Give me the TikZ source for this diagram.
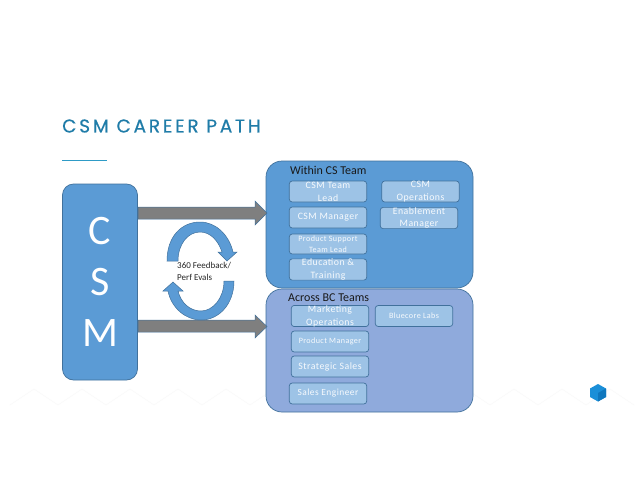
\documentclass[tikz,border=0pt]{standalone}
\usepackage{fontspec}
\setmainfont{Carlito}
\newfontfamily\titlefont[LetterSpace=15,FakeBold=0.5]{Poppins}
\newfontfamily\boxfont[LetterSpace=5]{Carlito}
\definecolor{edgeblue}{HTML}{41719C}
\definecolor{midblue}{HTML}{5B9BD5}
\definecolor{periblue}{HTML}{8FAADC}
\definecolor{lightblue}{HTML}{9DC3E6}
\definecolor{arrowgrey}{HTML}{7F7F7F}
\definecolor{titleblue}{HTML}{1F7CA8}
\definecolor{rulecol}{HTML}{2E9BC6}
\definecolor{ghost}{HTML}{FAFAFA}
\definecolor{logoA}{HTML}{1B8FD8}
\definecolor{logoB}{HTML}{0F77BE}
\begin{document}
\begin{tikzpicture}[x=1pt,y=-1pt,
  panelA/.style={draw=edgeblue,fill=midblue,line width=0.7pt,rounded corners=16pt},
  panelB/.style={draw=edgeblue,fill=periblue,line width=0.7pt,rounded corners=16pt},
  csmbox/.style={draw=edgeblue,fill=midblue,line width=0.7pt,rounded corners=11pt,minimum width=75pt,minimum height=196pt,inner sep=0pt},
  inbox/.style={draw=edgeblue,fill=lightblue,line width=0.7pt,rounded corners=3pt,minimum width=77.5pt,inner sep=0pt,text=white!92!lightblue,align=center,font=\boxfont\fontsize{9.8}{12.8}\selectfont},
  small/.style={font=\boxfont\fontsize{8.1}{10.5}\selectfont},
  head/.style={inner sep=0pt,anchor=west,text=black!90,font=\fontsize{12}{14}\selectfont},
  bigarrow/.style={draw=edgeblue,fill=arrowgrey,line width=0.5pt},
  cyc/.style={draw=edgeblue,fill=midblue,line width=0.5pt}]
\useasboundingbox (0,0) rectangle (638,493);
\fill[white] (0,0) rectangle (638,493);

% faint background motif
\draw[ghost,line width=0.6pt] (10,405)
  \foreach \i in {0,...,12} { -- ++(24,-16) -- ++(24,16) };

% title
\node[anchor=west,inner sep=0pt,text=titleblue,font=\titlefont\fontsize{18.5}{20}\selectfont] (title) at (62,126) {CSM CAREER PATH};
\coordinate (ruleL) at (62,160);
\coordinate (ruleR) at (107,160);
\draw[rulecol,line width=0.8pt] (ruleL) -- (ruleR);

% panels
\node[panelA,minimum width=207pt,minimum height=127pt,inner sep=0pt] (within) at (369.5,224.5) {};
\node[panelB,minimum width=207pt,minimum height=123pt,inner sep=0pt] (across) at (369.5,350.5) {};
\node[csmbox,align=center,text=white,font=\fontsize{42}{51}\selectfont] (csm) at (100,282) {C\\S\\M};

% big arrows
\draw[bigarrow] (138,207) -- (255,207) -- (255,201) -- (267,213) -- (255,225) -- (255,219) -- (138,219) -- cycle;
\draw[bigarrow] (138,320) -- (255,320) -- (255,315) -- (267,326.5) -- (255,338) -- (255,332) -- (138,332) -- cycle;

% cycle arrows
\draw[cyc] (167,261) .. controls (167,236) and (182,222) .. (200,222)
  .. controls (216,222) and (229,235) .. (233,252) -- (237,252) -- (227,261) -- (218,252) -- (222,252)
  .. controls (218,240) and (210,232) .. (200,232)
  .. controls (188,232) and (178,244) .. (178,261) -- cycle;
\draw[cyc] (234,281) .. controls (234,304) and (219,320) .. (201,320)
  .. controls (185,320) and (171,307) .. (168,291) -- (163,291) -- (173,282) -- (183,291) -- (178,291)
  .. controls (181,303) and (190,311) .. (201,311)
  .. controls (213,311) and (224,298) .. (224,281) -- cycle;
\node[anchor=north west,inner sep=0pt,align=left,text=black!85,font=\fontsize{9}{11.5}\selectfont] (fb) at (177,262.5) {360 Feedback/\\Perf Evals};

% headings
\node[head] (h1) at (290,170.5) {Within CS Team};
\node[head] (h2) at (288,297.5) {Across BC Teams};

% within boxes
\node[inbox,minimum height=21pt] (a1) at (328,191.5) {CSM Team\\Lead};
\node[inbox,minimum height=21pt] (a2) at (328,217.5) {CSM Manager};
\node[inbox,minimum height=20pt,small] (a3) at (328,244) {Product Support\\Team Lead};
\node[inbox,minimum height=21pt] (a4) at (328,269.5) {Education \&\\Training};
\node[inbox,minimum height=21pt] (a5) at (420.5,191.5) {CSM\\Operations};
\node[inbox,minimum height=20pt] (a6) at (419,218) {Enablement\\Manager};

% across boxes
\node[inbox,minimum height=21pt] (b1) at (330,316) {Marketing\\Operations};
\node[inbox,minimum height=21pt,small] (b2) at (330,341.5) {Product Manager};
\node[inbox,minimum height=21pt] (b3) at (330,366.5) {Strategic Sales};
\node[inbox,minimum height=21pt,font=\boxfont\fontsize{9.4}{11}\selectfont] (b4) at (328,393.5) {Sales Engineer};
\node[inbox,minimum height=21pt,small] (b5) at (414,316) {Bluecore Labs};

% logo
\fill[logoA] (598,384) -- (606,388.5) -- (606,397) -- (598,401.5) -- (590,397) -- (590,388.5) -- cycle;
\fill[logoB] (598,393) -- (606,388.5) -- (606,397) -- (598,401.5) -- cycle;
\end{tikzpicture}
\end{document}
